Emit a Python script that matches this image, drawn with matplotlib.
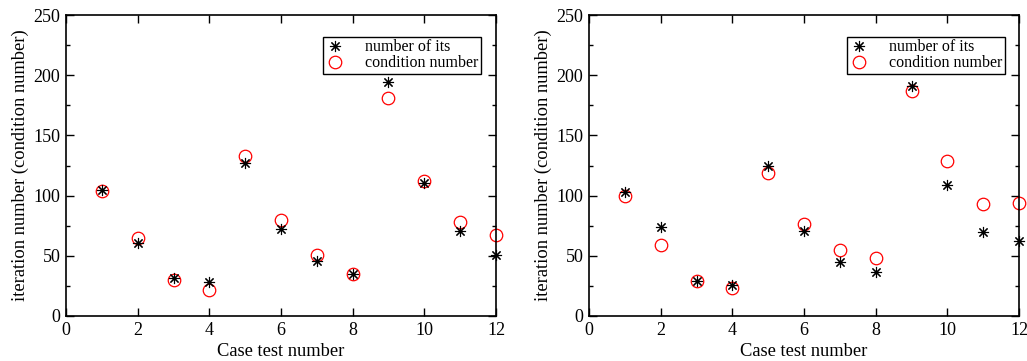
import matplotlib
matplotlib.use("Agg")
import matplotlib.pyplot as plt
from matplotlib.ticker import MultipleLocator

plt.rcParams['font.family'] = ['Liberation Serif', 'DejaVu Serif']

cases = [1, 2, 3, 4, 5, 6, 7, 8, 9, 10, 11, 12]
left_its = [105, 61, 31.5, 28, 127, 72.5, 46, 34.5, 194, 110.5, 70.5, 50.5]
left_cond = [104, 65, 30, 22, 133, 80, 51, 35, 181, 112, 78, 67]
right_its = [103, 74, 29, 26, 124.5, 70.5, 45, 36.5, 191, 108.5, 69.5, 62.5]
right_cond = [100, 59, 29, 23, 119, 76, 55, 48, 187, 129, 93, 94]

xlabel = "Case test number"
ylabel = "iteration number (condition number)"
labels = ["number of its", "condition number"]

fig = plt.figure(figsize=(10.27, 3.61), dpi=100)
W, H = 1027, 361
boxes = [(66, 15, 496, 316), (589, 15, 1019, 316)]
data = [(left_its, left_cond), (right_its, right_cond)]
legpos = [(323, 37), (847, 37)]

for (x0, y0, x1, y1), (its, cond), (lx, ly) in zip(boxes, data, legpos):
    ax = fig.add_axes([x0 / W, 1 - y1 / H, (x1 - x0) / W, (y1 - y0) / H])
    ax.plot(cases, its, linestyle='none', marker=(8, 2, 0), markersize=8,
            color='black', markeredgewidth=0.8, label=labels[0], clip_on=False, zorder=3)
    ax.plot(cases, cond, linestyle='none', marker='o', markersize=9,
            markerfacecolor='none', markeredgecolor='red', markeredgewidth=0.9,
            label=labels[1], clip_on=False, zorder=2)
    ax.set_xlim(0, 12)
    ax.set_ylim(0, 250)
    ax.xaxis.set_major_locator(MultipleLocator(2))
    ax.yaxis.set_major_locator(MultipleLocator(50))
    ax.yaxis.set_minor_locator(MultipleLocator(25))
    ax.tick_params(which='both', direction='in', top=True, right=True,
                   labelsize=13, width=1.0, color='black')
    ax.tick_params(which='major', length=6, pad=4)
    ax.tick_params(which='minor', length=3)
    for s in ax.spines.values():
        s.set_linewidth(1.2)
    ax.set_xlabel(xlabel, fontsize=13.3, labelpad=3)
    ax.set_ylabel(ylabel, fontsize=13.3, labelpad=3)
    leg = ax.legend(loc='upper left',
                    bbox_to_anchor=((lx - x0) / (x1 - x0), 1 - (ly - y0) / (y1 - y0)),
                    frameon=True, fancybox=False, edgecolor='black', framealpha=1,
                    fontsize=11.5, handlelength=1.2, handletextpad=1.3,
                    borderpad=0.15, labelspacing=0.0, borderaxespad=0)
    leg.get_frame().set_linewidth(1.0)

fig.savefig("out.png", dpi=100)
